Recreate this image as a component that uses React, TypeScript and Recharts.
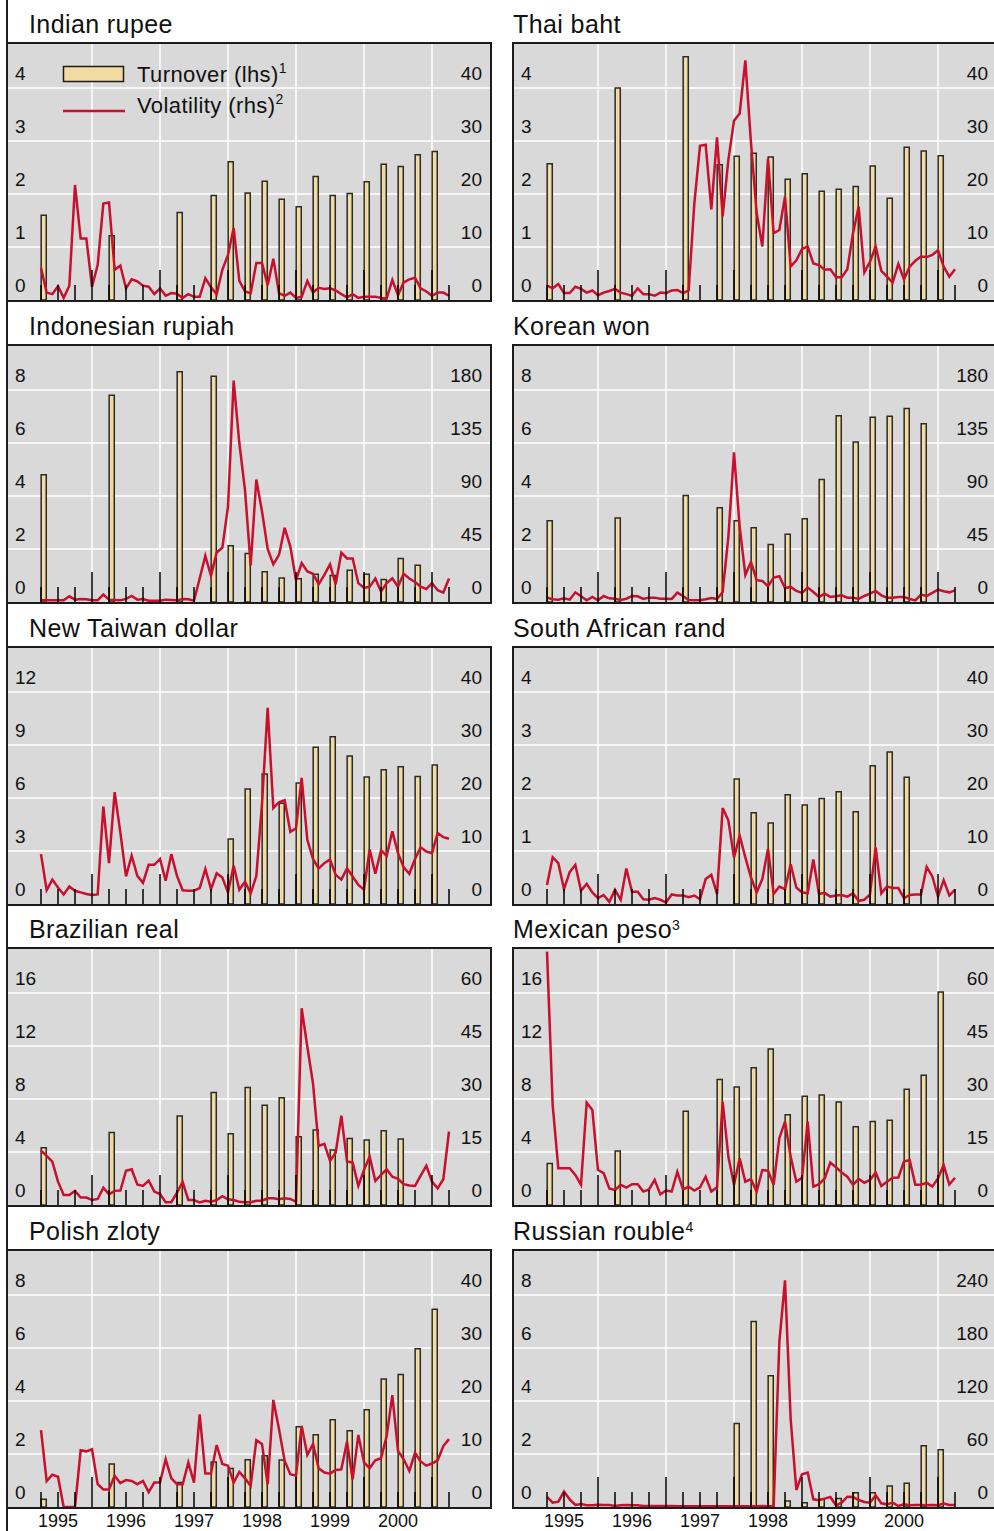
import React from "react";
import { ComposedChart, Bar, Line, XAxis, YAxis, CartesianGrid } from "recharts";

// months counted from January 1995 (0 = Jan 1995); volatility is monthly from April 1995
const FIRST_MONTH = 3;
const BAR_MONTHS = [3, 15, 27, 33, 36, 39, 42, 45, 48, 51, 54, 57, 60, 63, 66, 69, 72];
const QUARTER_TICKS = [3, 6, 9, 12, 15, 18, 21, 24, 27, 30, 33, 36, 39, 42, 45, 48, 51, 54, 57, 60, 63, 66, 69, 72, 75];
const YEAR_GRID = [12, 24, 36, 48, 60, 72];
const YEAR_LABELS = ["1995", "1996", "1997", "1998", "1999", "2000"];
const YEAR_LABEL_MONTHS = [6, 18, 30, 42, 54, 66];

// axis ticks
const L_4 = [0, 1, 2, 3, 4];
const L_8 = [0, 2, 4, 6, 8];
const L_12 = [0, 3, 6, 9, 12];
const L_16 = [0, 4, 8, 12, 16];
const R_40 = [0, 10, 20, 30, 40];
const R_60 = [0, 15, 30, 45, 60];
const R_180 = [0, 45, 90, 135, 180];
const R_240 = [0, 60, 120, 180, 240];

// turnover (lhs), one value per BAR_MONTHS entry
const INR_TURN = [1.6, 1.21, 1.65, 1.97, 2.61, 2.02, 2.24, 1.9, 1.76, 2.33, 1.97, 2.01, 2.23, 2.56, 2.52, 2.74, 2.8];
const THB_TURN = [2.57, 4.0, 4.59, 2.55, 2.71, 2.77, 2.7, 2.28, 2.38, 2.05, 2.09, 2.14, 2.53, 1.92, 2.88, 2.81, 2.72];
const IDR_TURN = [4.8, 7.8, 8.69, 8.52, 2.12, 1.83, 1.14, 0.91, 0.88, 1.05, 1.0, 1.2, 1.05, 0.85, 1.64, 1.39, null];
const KRW_TURN = [3.07, 3.17, 4.02, 3.56, 3.07, 2.8, 2.17, 2.56, 3.14, 4.62, 7.03, 6.04, 6.97, 7.01, 7.3, 6.73, null];
const TWD_TURN = [null, null, null, null, 3.68, 6.51, 7.36, 5.7, 6.85, 8.87, 9.47, 8.38, 7.19, 7.6, 7.77, 7.21, 7.87];
const ZAR_TURN = [null, null, null, null, 2.36, 1.72, 1.53, 2.06, 1.87, 1.99, 2.12, 1.74, 2.61, 2.87, 2.39, null, null];
const BRL_TURN = [4.33, 5.48, 6.72, 8.5, 5.38, 8.86, 7.52, 8.1, 5.16, 5.66, 4.15, 5.01, 4.91, 5.61, 4.98, null, null];
const MXN_TURN = [3.14, 4.08, 7.07, 9.48, 8.91, 10.36, 11.77, 6.82, 8.2, 8.3, 7.77, 5.91, 6.31, 6.39, 8.73, 9.79, 16.08];
const PLN_TURN = [0.29, 1.62, 0.92, 1.7, 1.45, 1.78, 1.93, 1.77, 3.03, 2.73, 3.29, 2.88, 3.67, 4.83, 5.0, 5.97, 7.46];
const RUB_TURN = [null, null, null, null, 3.15, 7.0, 4.95, 0.23, 0.16, 0.29, 0.32, 0.54, 0.54, 0.79, 0.9, 2.31, 2.16];

// volatility (rhs), monthly Apr 1995 - Apr 2001
const INR_VOL = [
  6.1, 1.4, 1.1, 2.6, 0.4, 2.7, 21.7, 11.6, 11.6, 2.5,
  6.6, 18.2, 18.4, 5.7, 6.5, 2.2, 3.9, 3.5, 2.7, 2.5,
  1.1, 2.2, 0.8, 1.3, 1.2, 0.4, 1.1, 0.6, 0.6, 4.1,
  2.4, 1.1, 5.7, 8.5, 13.6, 3.6, 1.6, 1.3, 7.0, 7.0,
  2.8, 7.8, 1.3, 0.8, 1.4, 0.4, 0.6, 3.6, 1.4, 2.3,
  2.1, 2.2, 1.8, 1.1, 0.5, 1.1, 0.4, 0.6, 0.6, 0.6,
  0.4, 0.3, 3.8, 0.9, 3.3, 3.9, 4.2, 2.2, 1.6, 0.8,
  1.4, 1.4, 0.8,
];
const THB_VOL = [
  2.7, 2.2, 3.0, 1.3, 1.3, 2.5, 2.1, 1.4, 1.8, 0.9,
  1.4, 1.7, 2.1, 1.4, 1.1, 0.8, 2.2, 1.1, 1.1, 0.8,
  1.4, 1.3, 1.8, 1.9, 1.3, 1.8, 18.2, 29.1, 29.3, 17.1,
  30.7, 15.8, 26.4, 33.8, 35.2, 45.2, 29.6, 16.4, 10.1, 26.7,
  12.6, 13.2, 19.5, 6.3, 7.5, 9.6, 10.1, 6.9, 6.6, 5.7,
  5.8, 4.3, 4.3, 5.8, 12.6, 17.6, 5.2, 7.2, 10.1, 5.5,
  4.4, 3.3, 6.8, 3.9, 6.3, 7.4, 8.2, 8.1, 8.5, 9.4,
  6.3, 4.4, 5.8,
];
const IDR_VOL = [
  1.4, 1.4, 1.4, 1.4, 1.4, 4.8, 2.0, 2.6, 2.3, 1.4,
  1.4, 6.3, 2.0, 1.7, 1.4, 2.6, 5.1, 2.0, 2.6, 1.1,
  1.1, 1.1, 2.0, 1.7, 1.4, 2.6, 2.3, 1.1, 19.9, 39.2,
  22.2, 42, 46, 81, 188, 135, 95, 31, 104, 77,
  45, 32, 40, 63, 47, 18.5, 33, 26, 24, 15,
  23, 32, 15, 42, 37, 37, 16, 12, 13, 20,
  9, 16, 20, 13, 24, 20, 17, 13, 11, 16,
  10, 8, 20,
];
const KRW_VOL = [
  3.7, 2.3, 2.0, 3.1, 2.0, 8.2, 4.8, 1.4, 4.3, 1.4,
  5.1, 3.1, 2.8, 1.7, 2.8, 5.1, 4.8, 2.6, 3.7, 3.7,
  2.8, 2.8, 2.6, 8.0, 5.1, 1.7, 1.4, 1.4, 2.3, 3.4,
  2.6, 8.5, 55, 127, 64, 23, 34, 18.5, 17.9, 13.4,
  20.7, 21.9, 11.9, 12.8, 9.4, 7.7, 12.2, 8.5, 4.3, 7.1,
  4.3, 4.8, 5.7, 3.7, 3.7, 2.6, 5.1, 7.1, 9.4, 5.7,
  3.7, 3.7, 4.3, 4.3, 2.6, 1.4, 6.3, 5.1, 7.7, 10.5,
  9.1, 8.2, 9.9,
];
const TWD_VOL = [
  9.4, 2.6, 4.6, 3.1, 1.8, 3.3, 2.5, 2.2, 1.9, 1.7,
  1.8, 18.4, 7.7, 21.1, 13.5, 5.2, 9.1, 5.3, 4.0, 7.4,
  7.4, 8.5, 4.4, 9.4, 5.3, 2.6, 2.5, 2.5, 3.0, 6.6,
  2.8, 5.8, 5.0, 2.2, 7.2, 2.7, 4.2, 2.0, 5.3, 18.9,
  37.0, 18.1, 19.2, 19.6, 13.6, 14.3, 23.8, 12.1, 8.5, 6.7,
  7.7, 8.4, 5.5, 4.6, 6.7, 5.2, 3.6, 2.7, 10.3, 5.7,
  10.1, 9.1, 13.7, 9.6, 6.9, 5.7, 8.5, 10.7, 9.9, 9.6,
  13.4, 12.6, 12.3,
];
const ZAR_VOL = [
  3.6, 8.8, 7.7, 2.8, 6.0, 7.4, 2.5, 3.8, 2.2, 1.1,
  1.7, 0.4, 2.7, 0.8, 6.7, 2.3, 2.3, 0.9, 0.8, 1.1,
  0.8, 0.3, 1.8, 1.6, 1.6, 1.3, 1.6, 0.9, 4.7, 5.5,
  1.9, 18.1, 15.8, 8.8, 12.9, 8.8, 5.0, 2.2, 4.7, 10.4,
  1.9, 3.3, 2.8, 7.5, 3.1, 2.2, 2.0, 8.4, 1.9, 2.1,
  1.4, 1.6, 1.7, 1.4, 2.0, 0.6, 0.8, 1.8, 10.7, 2.0,
  3.3, 3.0, 3.0, 1.1, 1.7, 1.8, 1.8, 7.0, 5.2, 1.4,
  4.5, 1.6, 2.7,
];
const BRL_VOL = [
  15.4, 13.9, 12.3, 6.6, 2.8, 2.8, 4.0, 2.1, 2.1, 1.4,
  1.7, 4.9, 3.0, 4.0, 4.1, 9.7, 10.1, 5.8, 5.4, 6.9,
  3.8, 3.1, 0.8, 0.8, 3.5, 6.5, 1.4, 1.4, 0.7, 1.2,
  0.9, 1.4, 2.5, 1.6, 1.4, 0.9, 0.8, 0.8, 1.2, 1.2,
  1.9, 1.9, 1.6, 1.9, 1.7, 0.9, 55.7, 44.8, 34.4, 16.7,
  17.3, 12.5, 14.8, 25.3, 12.3, 12.0, 5.4, 9.9, 13.7, 6.8,
  8.5, 10.1, 8.0, 7.4, 5.9, 5.5, 5.4, 8.3, 11.1, 6.6,
  4.7, 7.3, 20.8,
];
const MXN_VOL = [
  71.7, 28.3, 10.4, 10.4, 10.4, 8.5, 5.7, 29.0, 26.9, 9.9,
  9.0, 4.7, 4.2, 5.7, 4.9, 5.9, 5.9, 3.8, 4.4, 7.1,
  3.0, 4.1, 3.8, 9.4, 4.4, 5.2, 4.1, 5.0, 8.0, 3.8,
  5.0, 29.2, 13.7, 5.7, 13.2, 6.6, 7.3, 3.8, 9.9, 9.7,
  5.7, 18.9, 23.6, 13.7, 6.6, 7.7, 23.6, 5.2, 5.9, 7.5,
  12.0, 10.7, 9.2, 8.0, 5.7, 7.4, 6.3, 7.1, 9.2, 5.4,
  6.6, 7.7, 7.8, 12.3, 12.7, 5.7, 5.7, 6.3, 5.2, 7.5,
  11.3, 5.8, 7.7,
];
const PLN_VOL = [
  14.5, 4.9, 6.1, 5.7, 0, 0, 0, 10.7, 10.5, 10.9,
  4.3, 3.3, 3.3, 5.9, 4.5, 5.1, 4.9, 4.3, 4.9, 2.8,
  4.6, 4.6, 9.0, 5.4, 4.3, 4.3, 8.4, 4.6, 17.5, 6.3,
  6.3, 11.7, 8.1, 7.8, 4.6, 6.6, 5.4, 4.0, 12.6, 11.9,
  4.3, 20.2, 14.7, 8.7, 6.2, 5.9, 15.3, 9.8, 11.9, 7.3,
  6.5, 6.3, 7.0, 7.1, 12.3, 5.2, 13.6, 8.4, 7.3, 8.8,
  9.2, 13.4, 21.1, 10.6, 9.0, 6.8, 10.2, 8.6, 7.8, 8.2,
  8.8, 11.5, 12.8,
];
const RUB_VOL = [
  11.4, 4.9, 6.1, 17.4, 8.7, 2.3, 3.4, 1.9, 1.9, 2.6,
  2.3, 2.3, 1.1, 1.9, 2.3, 1.9, 1.9, 1.1, 1.1, 1.1,
  1.1, 1.1, 1.1, 0.8, 0.8, 0.8, 0.8, 0.8, 0.8, 0.8,
  0.8, 0.8, 0.8, 0.8, 0.8, 0.8, 0.8, 0.8, 1.1, 0.8,
  1.1, 186.6, 256.6, 99.5, 19.3, 37, 39, 8.7, 7.6, 9.5,
  11.4, 1.9, 4.9, 11.7, 11.4, 7.9, 5.7, 4.9, 13.2, 4.2,
  3.0, 4.9, 1.1, 3.0, 1.9, 2.3, 2.3, 1.9, 2.3, 1.9,
  3.8, 2.3, 2.3,
];

const PANELS = [
  { title: "Indian rupee", sup: "", vol: INR_VOL, turn: INR_TURN, lhs: L_4, rhs: R_40, col: 0, row: 0 },
  { title: "Thai baht", sup: "", vol: THB_VOL, turn: THB_TURN, lhs: L_4, rhs: R_40, col: 1, row: 0 },
  { title: "Indonesian rupiah", sup: "", vol: IDR_VOL, turn: IDR_TURN, lhs: L_8, rhs: R_180, col: 0, row: 1 },
  { title: "Korean won", sup: "", vol: KRW_VOL, turn: KRW_TURN, lhs: L_8, rhs: R_180, col: 1, row: 1 },
  { title: "New Taiwan dollar", sup: "", vol: TWD_VOL, turn: TWD_TURN, lhs: L_12, rhs: R_40, col: 0, row: 2 },
  { title: "South African rand", sup: "", vol: ZAR_VOL, turn: ZAR_TURN, lhs: L_4, rhs: R_40, col: 1, row: 2 },
  { title: "Brazilian real", sup: "", vol: BRL_VOL, turn: BRL_TURN, lhs: L_16, rhs: R_60, col: 0, row: 3 },
  { title: "Mexican peso", sup: "3", vol: MXN_VOL, turn: MXN_TURN, lhs: L_16, rhs: R_60, col: 1, row: 3 },
  { title: "Polish zloty", sup: "", vol: PLN_VOL, turn: PLN_TURN, lhs: L_8, rhs: R_40, col: 0, row: 4 },
  { title: "Russian rouble", sup: "4", vol: RUB_VOL, turn: RUB_TURN, lhs: L_8, rhs: R_240, col: 1, row: 4 },
];

const FONT = '"Liberation Sans", Arial, sans-serif';
const BG = "#d9d9d9";
const FRAME = "#1c1c1c";
const BAR_FILL = "#f1dba1";
const BAR_EDGE = "#2a2a2a";
const RED = "#c8102e";

const PLOT_W = 482;
const PLOT_H = 256;
const TOP_GAP = 44; // space above the highest gridline
const MONTH_PX = 68 / 12;
const X_MIN = FIRST_MONTH - 33 / MONTH_PX;
const X_MAX = X_MIN + PLOT_W / MONTH_PX;
const BAR_SHIFT = 3 / MONTH_PX; // bars sit just right of their quarter tick
const COL_X = [6, 512];
const ROW_Y = [44, 345.75, 647.5, 949.25, 1251];
const AXIS_H = 34;

function buildRows(vol: number[], turn: (number | null)[]) {
  return vol.map((v, i) => {
    const t = FIRST_MONTH + i;
    const k = BAR_MONTHS.indexOf(t);
    return { t, vol: v, turn: k >= 0 ? turn[k] : null };
  });
}

const topOf = (ticks: number[]) => (ticks[ticks.length - 1] * PLOT_H) / (PLOT_H - TOP_GAP);

function QuarterTick(props: any) {
  const { x, payload, showYears } = props;
  const t = payload.value;
  const h = t % 12 === 0 ? 30 : 15;
  const yi = YEAR_LABEL_MONTHS.indexOf(t);
  return (
    <g>
      <line x1={x} x2={x} y1={PLOT_H} y2={PLOT_H - h} stroke="#000" strokeWidth={1.5} />
      {showYears && yi >= 0 && (
        <text x={x} y={PLOT_H + 20} textAnchor="middle" fontSize={18} fill="#111" fontFamily={FONT}>
          {YEAR_LABELS[yi]}
        </text>
      )}
    </g>
  );
}

const LeftTick = (props: any) => (
  <text x={7} y={props.y - 8} fontSize={19} fill="#111" fontFamily={FONT} textAnchor="start">
    {props.payload.value}
  </text>
);

const RightTick = (props: any) => (
  <text x={PLOT_W - 8} y={props.y - 8} fontSize={19} fill="#111" fontFamily={FONT} textAnchor="end">
    {props.payload.value}
  </text>
);

function Panel({ p }: { p: (typeof PANELS)[number] }) {
  const showYears = p.row === 4;
  const rows = buildRows(p.vol, p.turn);
  const lMax = topOf(p.lhs);
  const rMax = topOf(p.rhs);
  return (
    <div
      style={{
        position: "absolute",
        left: COL_X[p.col],
        top: ROW_Y[p.row] - 2,
        width: PLOT_W,
        height: PLOT_H,
        border: `2px solid ${FRAME}`,
        background: BG,
      }}
    >
      <ComposedChart
        width={PLOT_W}
        height={PLOT_H + (showYears ? AXIS_H : 0)}
        data={rows}
        margin={{ top: 0, right: 0, bottom: 0, left: 0 }}
        style={{ position: "absolute", left: 0, top: 0 }}
      >
        <CartesianGrid
          xAxisId="m"
          yAxisId="l"
          stroke="#fff"
          strokeWidth={1.5}
          horizontalValues={p.lhs.slice(1)}
          verticalValues={YEAR_GRID}
        />
        <XAxis
          xAxisId="m"
          type="number"
          dataKey="t"
          domain={[X_MIN, X_MAX]}
          allowDataOverflow
          ticks={QUARTER_TICKS}
          interval={0}
          axisLine={false}
          tickLine={false}
          tickSize={0}
          tickMargin={0}
          mirror={!showYears}
          height={AXIS_H}
          zIndex={100}
          tick={(tp: any) => <QuarterTick {...tp} showYears={showYears} />}
        />
        <XAxis
          xAxisId="b"
          type="number"
          dataKey="t"
          domain={[X_MIN - BAR_SHIFT, X_MAX - BAR_SHIFT]}
          allowDataOverflow
          hide
        />
        <YAxis
          yAxisId="l"
          domain={[0, lMax]}
          ticks={p.lhs}
          allowDataOverflow
          mirror
          width={40}
          axisLine={false}
          tickLine={false}
          interval={0}
          tick={LeftTick}
        />
        <YAxis
          yAxisId="r"
          orientation="right"
          domain={[0, rMax]}
          ticks={p.rhs}
          allowDataOverflow
          mirror
          width={40}
          axisLine={false}
          tickLine={false}
          interval={0}
          tick={RightTick}
        />
        <Bar
          dataKey="turn"
          xAxisId="b"
          yAxisId="l"
          barSize={6}
          fill={BAR_FILL}
          stroke={BAR_EDGE}
          strokeWidth={1.5}
          isAnimationActive={false}
        />
        <Line
          dataKey="vol"
          xAxisId="m"
          yAxisId="r"
          type="linear"
          stroke={RED}
          strokeWidth={2.5}
          dot={false}
          activeDot={false}
          isAnimationActive={false}
        />
      </ComposedChart>
    </div>
  );
}

function Overlay() {
  return (
    <svg
      width={994}
      height={1531}
      style={{ position: "absolute", left: 0, top: 0, pointerEvents: "none" }}
      fontFamily={FONT}
    >
      <line x1={7} x2={7} y1={0} y2={1531} stroke={FRAME} strokeWidth={2} />
      {PANELS.map((p) => (
        <text
          key={p.title}
          x={p.col === 0 ? 29 : 513}
          y={ROW_Y[p.row] - 11}
          fontSize={25}
          letterSpacing={0.4}
          fill="#111"
        >
          {p.title}
          {p.sup && (
            <tspan fontSize={14} dy={-8}>
              {p.sup}
            </tspan>
          )}
        </text>
      ))}
      {/* legend, drawn in the first panel */}
      <rect x={63.5} y={66.5} width={60} height={15} fill={BAR_FILL} stroke={FRAME} strokeWidth={1.5} />
      <line x1={63} x2={125} y1={111} y2={111} stroke={RED} strokeWidth={2.5} />
      <text x={137} y={82} fontSize={22} letterSpacing={0.4} fill="#111">
        Turnover (lhs)
        <tspan fontSize={14} dy={-9}>
          1
        </tspan>
      </text>
      <text x={137} y={112.5} fontSize={22} letterSpacing={0.4} fill="#111">
        Volatility (rhs)
        <tspan fontSize={14} dy={-9}>
          2
        </tspan>
      </text>
    </svg>
  );
}

export default function App() {
  return (
    <div
      style={{
        position: "absolute",
        left: 0,
        top: 0,
        width: 994,
        height: 1531,
        overflow: "hidden",
        background: "#fff",
        fontFamily: FONT,
      }}
    >
      {PANELS.map((p) => (
        <Panel key={p.title} p={p} />
      ))}
      <Overlay />
    </div>
  );
}
